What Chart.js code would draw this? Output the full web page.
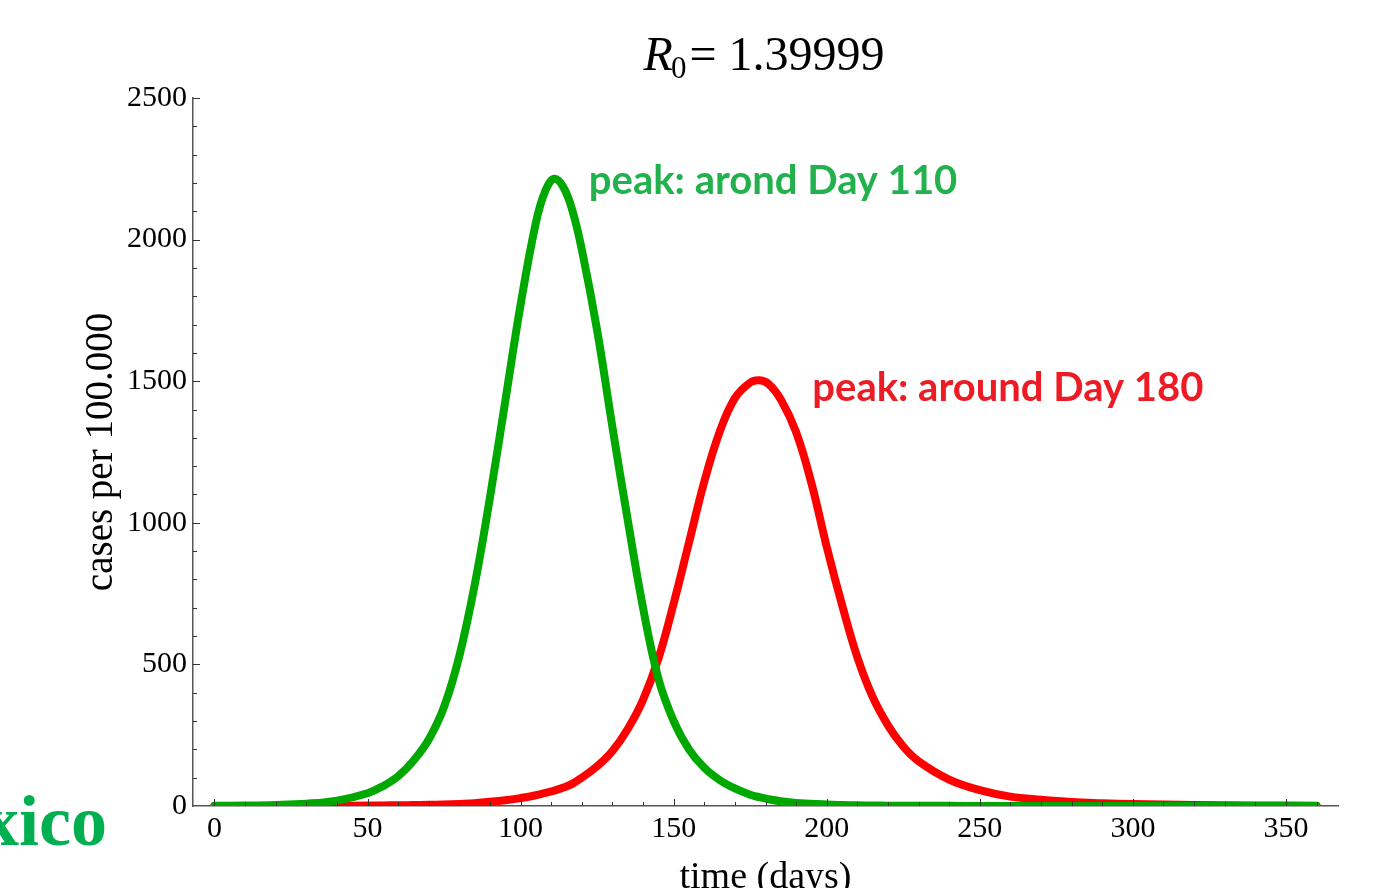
<!DOCTYPE html>
<html>
<head>
<meta charset="utf-8">
<script src="https://cdn.jsdelivr.net/npm/chart.js@4.4.0/dist/chart.umd.min.js"></script>
<style>
html,body{margin:0;padding:0;overflow:hidden;background:#ffffff;width:1397px;height:888px}
#wrap{position:relative;width:1397px;height:900px}
canvas{display:block}
</style>
</head>
<body>
<div id="wrap"><canvas id="c" width="1397" height="900"></canvas></div>
<script>
// ---- data ----
const days = [0,10,20,30,40,50,55,60,65,70,75,80,85,90,95,100,105,108,111,114,117,120,125,130,135,140,145,150,155,160,165,170,175,178,181,185,190,195,200,205,210,215,220,225,230,240,250,260,270,280,290,300,320,340,360];
const greenCases = [0.7,1.5,3.5,8,19,45,70,105,160,235,350,530,780,1090,1430,1770,2060,2170,2215,2185,2100,1965,1680,1338,1010,700,450,300,200,135,92,62,40,31,24,17,11,8,5,3.5,2.5,1.8,1.3,1,0.8,0.5,0.4,0.3,0.2,0.2,0.1,0.1,0.1,0.1,0.1];
const redCases = [0.2,0.3,0.4,0.6,1,1.6,2,2.5,3.2,4,5.5,7.5,10,15,20,28,38,46,54,65,79,100,140,194,272,375,520,715,930,1145,1320,1440,1495,1503,1490,1435,1320,1140,915,710,525,385,285,210,158,93,56,33,22,14,10,7,3.5,1.8,1];
const xTickValues = [0,50,100,150,200,250,300,350];
const yTickValues = [0,500,1000,1500,2000,2500];
const titleParts = ['R', '0', '= 1.39999'];
const greenNote = 'peak: arond Day 110';
const redNote = 'peak: around Day 180';
const cornerText = 'xico';
const xTitle = 'time (days)';
const yTitle = 'cases per 100.000';

const SERIF = '"Liberation Serif", "Times New Roman", serif';

const greenPts = days.map((d, i) => ({x: d, y: greenCases[i]}));
const redPts = days.map((d, i) => ({x: d, y: redCases[i]}));

const decorPlugin = {
  id: 'decor',
  afterDatasetsDraw(chart) {
    const ctx = chart.ctx;
    const xs = chart.scales.x, ys = chart.scales.y;
    const x0 = xs.left, y0 = ys.bottom;
    ctx.save();
    ctx.strokeStyle = '#333';
    ctx.lineWidth = 1;
    ctx.beginPath();
    for (let v = 100; v <= 2500; v += 100) {
      const py = Math.round(ys.getPixelForValue(v)) + 0.5;
      const len = (v % 500 === 0) ? 7 : 4;
      ctx.moveTo(x0, py); ctx.lineTo(x0 + len, py);
    }
    for (let d = 0; d <= 360; d += 10) {
      const px = Math.round(xs.getPixelForValue(d)) + 0.5;
      const len = (d % 50 === 0) ? 7 : 4;
      ctx.moveTo(px, y0); ctx.lineTo(px, y0 - len);
    }
    ctx.stroke();
    ctx.restore();
  },
  afterDraw(chart) {
    const ctx = chart.ctx;
    const xs = chart.scales.x, ys = chart.scales.y;
    ctx.save();
    // annotations
    ctx.textBaseline = 'alphabetic';
    ctx.textAlign = 'left';
    ctx.font = 'bold 40px Lato';
    ctx.fillStyle = '#22b14c';
    ctx.fillText(greenNote, xs.getPixelForValue(122.3), ys.getPixelForValue(2160));
    ctx.fillStyle = '#ed1c24';
    ctx.fillText(redNote, xs.getPixelForValue(195.3), ys.getPixelForValue(1430));
    // title R0 = ...
    const fR = 'italic 48px ' + SERIF, fSub = '31px ' + SERIF, fMain = '48px ' + SERIF;
    ctx.font = fR; const wR = ctx.measureText(titleParts[0]).width;
    ctx.font = fSub; const wS = ctx.measureText(titleParts[1]).width;
    ctx.font = fMain; const wM = ctx.measureText(titleParts[2]).width;
    const total = wR - 2 + wS + 3 + wM;
    let tx = 764 - total / 2;
    const base = 70;
    ctx.fillStyle = '#000';
    ctx.font = fR; ctx.fillText(titleParts[0], tx, base);
    tx += wR - 2;
    ctx.font = fSub; ctx.fillText(titleParts[1], tx, base + 8);
    tx += wS + 3;
    ctx.font = fMain; ctx.fillText(titleParts[2], tx, base);
    // cut-off corner text
    ctx.font = 'bold 72px ' + SERIF;
    ctx.fillStyle = '#00b050';
    ctx.fillText(cornerText, -17, 845);
    ctx.restore();
  }
};

new Chart(document.getElementById('c'), {
  type: 'line',
  data: {
    datasets: [
      {label: 'green', data: greenPts, borderColor: '#00a800', borderWidth: 8, pointRadius: 0, tension: 0.4, borderCapStyle: 'round', borderJoinStyle: 'round', fill: false},
      {label: 'red', data: redPts, borderColor: '#ff0000', borderWidth: 8, pointRadius: 0, tension: 0.4, borderCapStyle: 'round', borderJoinStyle: 'round', fill: false}
    ]
  },
  options: {
    responsive: false,
    devicePixelRatio: 1,
    animation: false,
    layout: {padding: {top: 98, right: 59, bottom: 0, left: 0}},
    plugins: {legend: {display: false}, tooltip: {enabled: false}, title: {display: false}},
    scales: {
      x: {
        type: 'linear', min: -7, max: 367,
        afterBuildTicks: s => { s.ticks = xTickValues.map(v => ({value: v})); },
        afterFit: s => { s.height = 94; },
        grid: {display: true, drawOnChartArea: false, drawTicks: false},
        border: {display: true, color: '#555', width: 1.5},
        ticks: {autoSkip: false, maxRotation: 0, padding: 5, color: '#000', font: {family: SERIF, size: 30}, callback: v => String(v)},
        title: {display: true, text: xTitle, color: '#000', font: {family: SERIF, size: 38, lineHeight: 1}, padding: {top: 0, bottom: 3}}
      },
      y: {
        type: 'linear', min: 0, max: 2500,
        afterBuildTicks: s => { s.ticks = yTickValues.map(v => ({value: v})); },
        afterFit: s => { s.width = 193; },
        grid: {display: true, drawOnChartArea: false, drawTicks: false},
        border: {display: true, color: '#555', width: 1.5},
        ticks: {padding: 6, color: '#000', font: {family: SERIF, size: 30}, callback: v => String(v)},
        title: {display: true, text: yTitle, color: '#000', font: {family: SERIF, size: 39, lineHeight: 1}, padding: {top: 82, bottom: 0}}
      }
    }
  },
  plugins: [decorPlugin]
});
</script>
</body>
</html>
